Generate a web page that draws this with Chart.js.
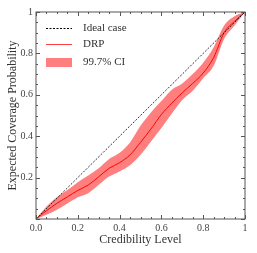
<!DOCTYPE html>
<html>
<head>
<meta charset="utf-8">
<script src="https://cdn.jsdelivr.net/npm/chart.js@4"></script>
<style>
  html, body { margin: 0; padding: 0; background: #fff; }
  #wrap { width: 257px; height: 253px; }
</style>
</head>
<body>
<div id="wrap"><canvas id="coverageChart" width="257" height="253"></canvas></div>
<script>
// Credibility levels (x) and coverage values
const credLevels = [0, 0.05, 0.1, 0.15, 0.2, 0.25, 0.3, 0.35, 0.4, 0.45, 0.5, 0.55, 0.6, 0.65, 0.7, 0.75, 0.8, 0.85, 0.9, 0.95, 1];
const drpMean  = [0, 0.04, 0.076, 0.107, 0.138, 0.164, 0.204, 0.245, 0.272, 0.31, 0.37, 0.435, 0.505, 0.56, 0.61, 0.655, 0.705, 0.78, 0.9, 0.955, 1];
const ciLower  = [0, 0.02, 0.045, 0.075, 0.105, 0.125, 0.165, 0.205, 0.23, 0.26, 0.31, 0.375, 0.44, 0.51, 0.575, 0.62, 0.68, 0.74, 0.87, 0.935, 1];
const ciUpper  = [0, 0.06, 0.105, 0.14, 0.178, 0.21, 0.245, 0.29, 0.32, 0.37, 0.45, 0.515, 0.57, 0.625, 0.655, 0.7, 0.755, 0.83, 0.935, 0.98, 1];
const idealX   = [0, 1];
const xTickLabels = ['0.0', '0.2', '0.4', '0.6', '0.8', '1'];
const yTickLabels = ['', '0.2', '0.4', '0.6', '0.8', '1'];

const serif = '"Liberation Serif", "DejaVu Serif", serif';
const bandColor = 'rgba(255, 0, 0, 0.5)';

const toPts = (xs, ys) => xs.map((x, i) => ({ x: x, y: ys[i] }));

// frame + inward ticks on all sides, and the legend
const framePlugin = {
  id: 'frame',
  afterDraw(chart) {
    const ctx = chart.ctx;
    const a = chart.chartArea;
    const xs = chart.scales.x, ys = chart.scales.y;
    ctx.save();
    ctx.strokeStyle = '#555';
    ctx.lineWidth = 1;
    ctx.strokeRect(a.left, a.top, a.right - a.left, a.bottom - a.top);
    ctx.beginPath();
    for (let i = 0; i <= 20; i++) {
      const v = i / 20;
      const len = i % 4 === 0 ? 4 : 2;
      const px = Math.round(xs.getPixelForValue(v)) + 0.5;
      const py = Math.round(ys.getPixelForValue(v)) + 0.5;
      ctx.moveTo(px, a.bottom); ctx.lineTo(px, a.bottom - len);
      ctx.moveTo(px, a.top); ctx.lineTo(px, a.top + len);
      ctx.moveTo(a.left, py); ctx.lineTo(a.left + len, py);
      ctx.moveTo(a.right, py); ctx.lineTo(a.right - len, py);
    }
    ctx.stroke();

    // legend
    const lx = a.left + 10, tx = a.left + 47;
    ctx.font = '11px ' + serif;
    ctx.fillStyle = '#333';
    ctx.textBaseline = 'middle';
    ctx.fillText('Ideal case', tx, 28.5);
    ctx.fillText('DRP', tx, 44.5);
    ctx.fillText('99.7% CI', tx, 62);
    ctx.strokeStyle = '#000';
    ctx.setLineDash([2, 1.5]);
    ctx.beginPath(); ctx.moveTo(lx, 28.5); ctx.lineTo(lx + 26, 28.5); ctx.stroke();
    ctx.setLineDash([]);
    ctx.strokeStyle = '#ff4040';
    ctx.beginPath(); ctx.moveTo(lx, 44.5); ctx.lineTo(lx + 26, 44.5); ctx.stroke();
    ctx.fillStyle = '#ff7f7f';
    ctx.fillRect(lx, 58, 26, 9);
    ctx.restore();
  }
};

new Chart(document.getElementById('coverageChart'), {
  type: 'line',
  data: {
    datasets: [
      {
        label: 'Ideal case',
        data: toPts(idealX, idealX),
        borderColor: '#000',
        borderWidth: 0.8,
        borderDash: [2, 1.5],
        pointRadius: 0,
        fill: false
      },
      {
        label: '99.7% CI',
        data: toPts(credLevels, ciUpper),
        borderWidth: 0,
        borderColor: 'rgba(0,0,0,0)',
        backgroundColor: bandColor,
        pointRadius: 0,
        cubicInterpolationMode: 'monotone',
        fill: '+1'
      },
      {
        label: 'lower',
        data: toPts(credLevels, ciLower),
        borderWidth: 0,
        borderColor: 'rgba(0,0,0,0)',
        pointRadius: 0,
        cubicInterpolationMode: 'monotone',
        fill: false
      },
      {
        label: 'DRP',
        data: toPts(credLevels, drpMean),
        borderColor: '#ff0000',
        borderWidth: 1,
        pointRadius: 0,
        cubicInterpolationMode: 'monotone',
        fill: false
      }
    ]
  },
  options: {
    responsive: false,
    animation: false,
    layout: { padding: { top: 12, right: 12, left: 0, bottom: 0 } },
    plugins: {
      legend: { display: false },
      tooltip: { enabled: false }
    },
    scales: {
      x: {
        type: 'linear',
        min: 0, max: 1,
        afterFit: s => { s.height = 34; },
        afterBuildTicks: s => { s.ticks = [0, 0.2, 0.4, 0.6, 0.8, 1].map(v => ({ value: v })); },
        grid: { display: false, drawTicks: false },
        border: { display: false },
        ticks: {
          padding: 3,
          maxRotation: 0,
          color: '#444',
          font: { family: serif, size: 10 },
          callback: (v, i) => xTickLabels[i]
        },
        title: {
          display: true,
          text: 'Credibility Level',
          color: '#333',
          font: { family: serif, size: 12 },
          padding: { top: 0, bottom: 6 }
        }
      },
      y: {
        type: 'linear',
        min: 0, max: 1,
        afterFit: s => { s.width = 36; },
        afterBuildTicks: s => { s.ticks = [0, 0.2, 0.4, 0.6, 0.8, 1].map(v => ({ value: v })); },
        grid: { display: false, drawTicks: false },
        border: { display: false },
        ticks: {
          padding: 3,
          color: '#444',
          font: { family: serif, size: 10 },
          callback: (v, i) => yTickLabels[i]
        },
        title: {
          display: true,
          text: 'Expected Coverage Probability',
          color: '#333',
          font: { family: serif, size: 12 },
          padding: { top: 6, bottom: 0 }
        }
      }
    }
  },
  plugins: [framePlugin]
});
</script>
</body>
</html>
